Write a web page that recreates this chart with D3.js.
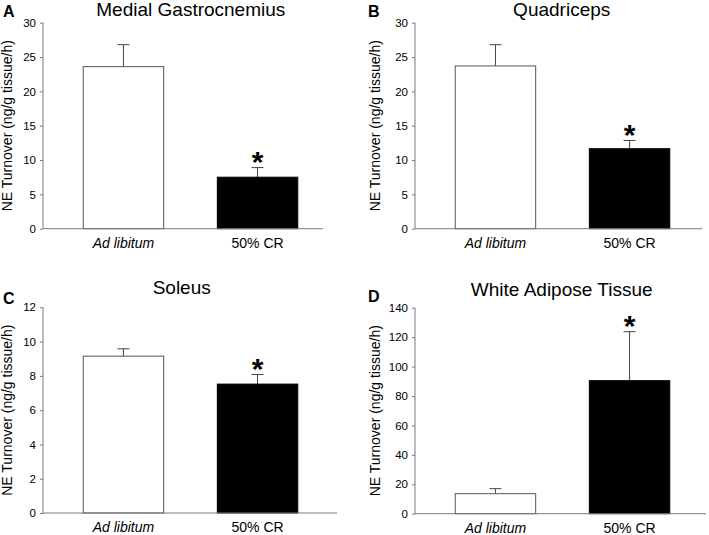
<!DOCTYPE html>
<html>
<head>
<meta charset="utf-8">
<script src="https://cdn.jsdelivr.net/npm/d3@7"></script>
<style>
  html, body { margin: 0; padding: 0; background: #fff; }
  svg { display: block; }
  text { font-family: "Liberation Sans", Arial, sans-serif; fill: #000; }
</style>
</head>
<body>
<svg id="chart" width="709" height="535"></svg>
<script>
// ---- data ----
const categories = ["Ad libitum", "50% CR"];
const panelLetters = ["A", "B", "C", "D"];
const panelTitles = ["Medial Gastrocnemius", "Quadriceps", "Soleus", "White Adipose Tissue"];
const meansA = [23.6, 7.5];
const semA = [3.2, 1.4];
const meansB = [23.7, 11.65];
const semB = [3.1, 1.2];
const meansC = [9.15, 7.52];
const semC = [0.43, 0.56];
const meansD = [13.6, 90.4];
const semD = [3.4, 33.3];
const significant = [false, true]; // asterisk over 50% CR in all panels
const yMaxes = [30, 30, 12, 140];
const yTickSteps = [5, 5, 2, 20];
const yLabel = "NE Turnover (ng/g tissue/h)";

const allMeans = [meansA, meansB, meansC, meansD];
const allSem = [semA, semB, semC, semD];

// ---- layout (positions only) ----
const layout = [
  { x0: 43,  yTop: 22.7,  yBot: 228.7, axisEnd: 323, titleX: 190.8, titleY: 16,    letX: 3,   letY: 17,  labX: 6.5 },
  { x0: 415, yTop: 22.7,  yBot: 228.7, axisEnd: 702, titleX: 561.7, titleY: 15.5,  letX: 368, letY: 17,  labX: 374.5 },
  { x0: 43,  yTop: 307.3, yBot: 513,   axisEnd: 337, titleX: 181.7, titleY: 294,   letX: 3,   letY: 304, labX: 6.5 },
  { x0: 415, yTop: 307.7, yBot: 513.7, axisEnd: 706, titleX: 561.7, titleY: 295.5, letX: 368, letY: 302, labX: 374.5 }
];

const svg = d3.select("#chart");
const axisColor = "#7a7a7a";

panelLetters.forEach((letter, i) => {
  const L = layout[i];
  const means = allMeans[i];
  const sem = allSem[i];
  const g = svg.append("g");

  const x = d3.scaleBand().domain(categories).range([L.x0, L.x0 + 295])
    .paddingInner(0.4).paddingOuter(0.3);
  const y = d3.scaleLinear().domain([0, yMaxes[i]]).range([L.yBot, L.yTop]);

  // bars
  categories.forEach((c, j) => {
    const bx = x(c), bw = x.bandwidth();
    const by = y(means[j]);
    const top = y(means[j] + sem[j]);
    const cx = bx + bw / 2;
    // error bar (upward only)
    g.append("line").attr("x1", cx).attr("x2", cx).attr("y1", by).attr("y2", top)
      .attr("stroke", "#444").attr("stroke-width", 1);
    g.append("line").attr("x1", cx - 6).attr("x2", cx + 6).attr("y1", top).attr("y2", top)
      .attr("stroke", "#444").attr("stroke-width", 1);
    if (j === 0) {
      g.append("rect").attr("x", bx).attr("y", by).attr("width", bw).attr("height", y(0) - by)
        .attr("fill", "#fff").attr("stroke", "#555").attr("stroke-width", 1);
    } else {
      g.append("rect").attr("x", bx).attr("y", by).attr("width", bw).attr("height", y(0) - by)
        .attr("fill", "#000").attr("stroke", "#000").attr("stroke-width", 1);
    }
    if (significant[j]) {
      g.append("text").attr("x", cx).attr("y", top + 4.7)
        .attr("text-anchor", "middle").attr("font-size", 30).attr("font-weight", "bold")
        .text("*");
    }
  });

  // y axis
  const ticks = d3.range(0, yMaxes[i] + 1e-9, yTickSteps[i]);
  const yAxis = d3.axisLeft(y).tickValues(ticks).tickSize(3).tickPadding(4)
    .tickFormat(d3.format("d"));
  const ya = g.append("g").attr("transform", `translate(${L.x0},0)`).call(yAxis);
  ya.select(".domain").attr("stroke", axisColor).attr("d", `M0,${L.yBot}V${L.yTop}`);
  ya.selectAll(".tick line").attr("stroke", axisColor);
  ya.selectAll(".tick text").attr("font-size", 11.5).attr("fill", "#000")
    .style("font-family", '"Liberation Sans", Arial, sans-serif');

  // x axis line
  g.append("line").attr("x1", L.x0).attr("x2", L.axisEnd).attr("y1", L.yBot).attr("y2", L.yBot)
    .attr("stroke", axisColor).attr("stroke-width", 1);

  // x labels
  categories.forEach((c, j) => {
    g.append("text").attr("x", x(c) + x.bandwidth() / 2).attr("y", L.yBot + 19)
      .attr("text-anchor", "middle").attr("font-size", 14)
      .attr("font-style", j === 0 ? "italic" : "normal")
      .text(c);
  });

  // y label
  const ymid = (L.yTop + L.yBot) / 2;
  g.append("text")
    .attr("transform", `translate(${L.labX + 5},${ymid}) rotate(-90)`)
    .attr("text-anchor", "middle").attr("font-size", 14)
    .text(yLabel);

  // title
  g.append("text").attr("x", L.titleX).attr("y", L.titleY)
    .attr("text-anchor", "middle").attr("font-size", 19).text(panelTitles[i]);

  // panel letter
  g.append("text").attr("x", L.letX).attr("y", L.letY)
    .attr("font-size", 16).attr("font-weight", "bold").text(letter);
});
</script>
</body>
</html>
